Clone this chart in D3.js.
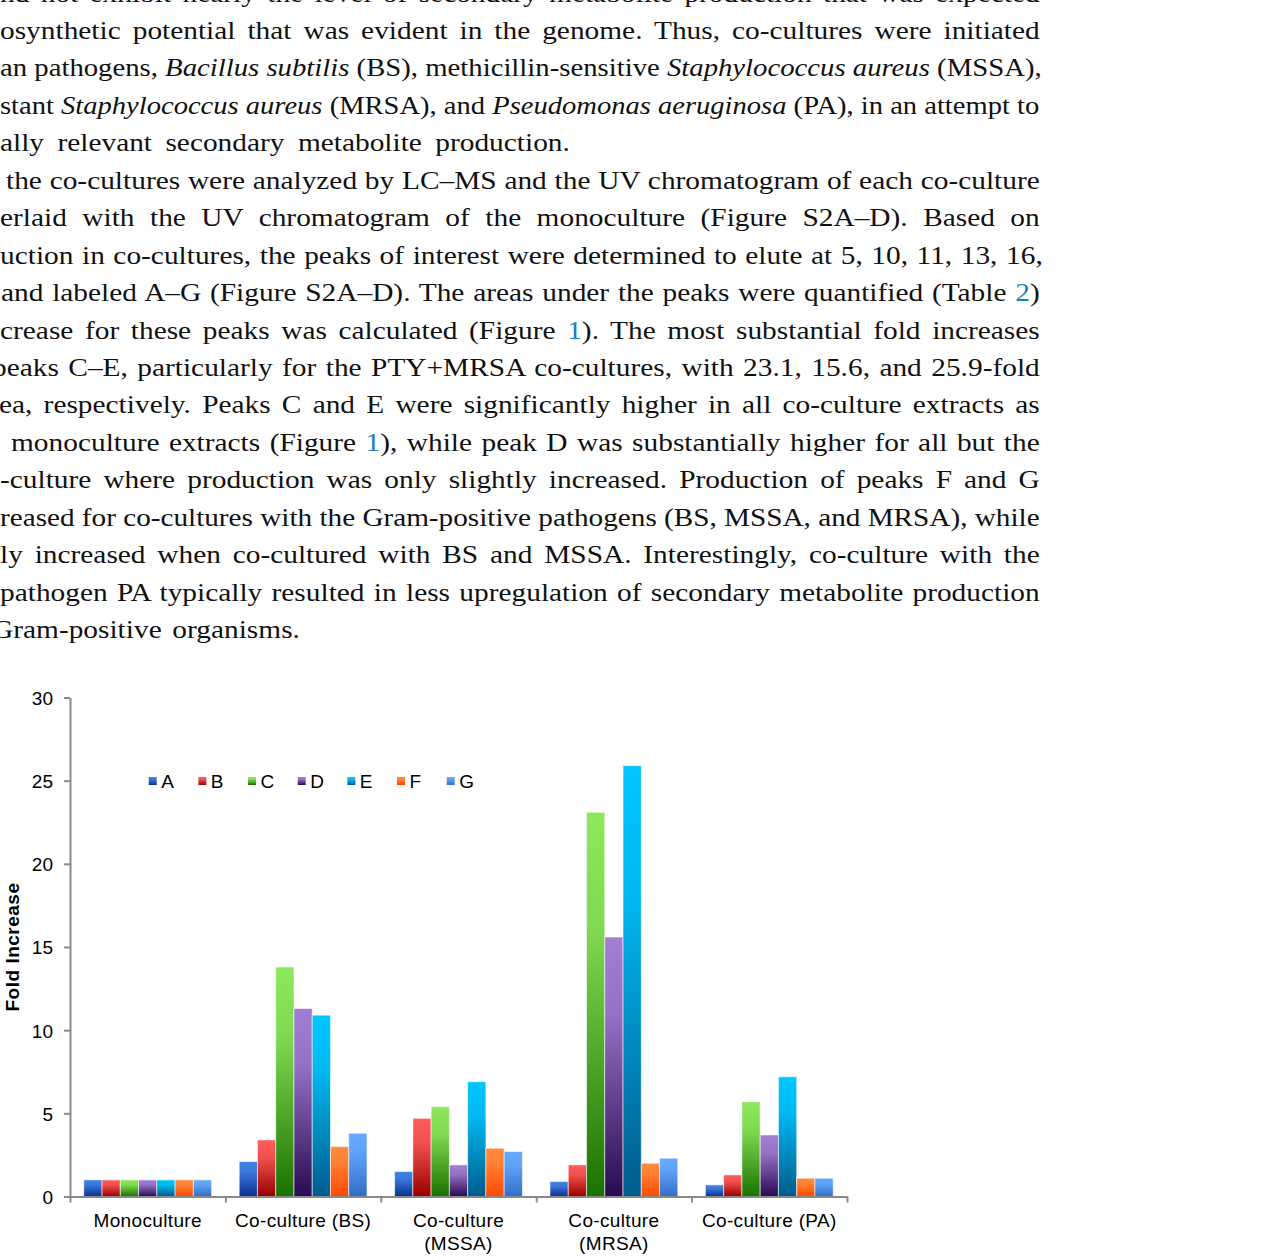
<!DOCTYPE html>
<html><head><meta charset="utf-8">
<script src="https://cdn.jsdelivr.net/npm/d3@7"></script>
<style>
html,body{margin:0;padding:0;background:#fff;overflow:hidden;}
svg{display:block;}
</style></head><body>
<svg id="page" width="1262" height="1260"></svg>
<script>
// ---------------- DATA ----------------
const categories = ["Monoculture", "Co-culture (BS)", "Co-culture (MSSA)", "Co-culture (MRSA)", "Co-culture (PA)"];
const categoryLabelLines = [["Monoculture"], ["Co-culture (BS)"], ["Co-culture", "(MSSA)"], ["Co-culture", "(MRSA)"], ["Co-culture (PA)"]];
const peaks = ["A", "B", "C", "D", "E", "F", "G"];
const peakA = [1.0, 2.1, 1.5, 0.9, 0.7];
const peakB = [1.0, 3.4, 4.7, 1.9, 1.3];
const peakC = [1.0, 13.8, 5.4, 23.1, 5.7];
const peakD = [1.0, 11.3, 1.9, 15.6, 3.7];
const peakE = [1.0, 10.9, 6.9, 25.9, 7.2];
const peakF = [1.0, 3.0, 2.9, 2.0, 1.1];
const peakG = [1.0, 3.8, 2.7, 2.3, 1.1];
const yTicks = [0, 5, 10, 15, 20, 25, 30];
const yTitle = "Fold Increase";

// body text lines (visible portions of a cropped, justified paragraph)
const bodyLines = [
  [["nd not exhibit nearly the level of secondary metabolite production that was expected"]],
  [["osynthetic potential that was evident in the genome. Thus, co-cultures were initiated"]],
  [["an pathogens, "], ["Bacillus subtilis", "i"], [" (BS), methicillin-sensitive "], ["Staphylococcus aureus", "i"], [" (MSSA),"]],
  [["stant "], ["Staphylococcus aureus", "i"], [" (MRSA), and "], ["Pseudomonas aeruginosa", "i"], [" (PA), in an attempt to"]],
  [["ally relevant secondary metabolite production."]],
  [["the co-cultures were analyzed by LC\u2013MS and the UV chromatogram of each co-culture"]],
  [["erlaid with the UV chromatogram of the monoculture (Figure S2A\u2013D). Based on"]],
  [["uction in co-cultures, the peaks of interest were determined to elute at 5, 10, 11, 13, 16,"]],
  [["and labeled A\u2013G (Figure S2A\u2013D). The areas under the peaks were quantified (Table "], ["2", "l"], [")"]],
  [["crease for these peaks was calculated (Figure "], ["1", "l"], ["). The most substantial fold increases"]],
  [["peaks C\u2013E, particularly for the PTY+MRSA co-cultures, with 23.1, 15.6, and 25.9-fold"]],
  [["ea, respectively. Peaks C and E were significantly higher in all co-culture extracts as"]],
  [["monoculture extracts (Figure "], ["1", "l"], ["), while peak D was substantially higher for all but the"]],
  [["-culture where production was only slightly increased. Production of peaks F and G"]],
  [["reased for co-cultures with the Gram-positive pathogens (BS, MSSA, and MRSA), while"]],
  [["ly increased when co-cultured with BS and MSSA. Interestingly, co-culture with the"]],
  [["pathogen PA typically resulted in less upregulation of secondary metabolite production"]],
  [["Gram-positive organisms."]]
];
// start / end x of each visible line
const bodyStart = [0, 0, 0, 0, 0, 6, 0, 0, 1, 0, -8, -1, 11, 0, 0, 0, 0, -8];
const bodyEnd = [1040, 1040, 1042, 1040, 570, 1040, 1040, 1043, 1040, 1040, 1040, 1040, 1040, 1040, 1040, 1040, 1040, 300];
const maxStretch = 1.13;

// ---------------- STYLE ----------------
const gradColors = {
  A: ["#3f82e6", "#0b2f8e"],
  B: ["#ff5c5c", "#980000"],
  C: ["#8ee85c", "#1a7200"],
  D: ["#a27fd2", "#2a0a52"],
  E: ["#00c6ff", "#005b8c"],
  F: ["#ff8a3c", "#ff4800"],
  G: ["#66a9ff", "#346ec6"]
};
const svg = d3.select("#page");

// ---------------- BODY TEXT ----------------
const bodyG = svg.append("g")
  .attr("font-family", "'Liberation Serif', 'Times New Roman', serif")
  .attr("font-size", 26)
  .attr("fill", "#111");
bodyLines.forEach((segs, i) => {
  const yb = 1.5 + i * 37.45;
  const t = bodyG.append("text").attr("x", 0).attr("y", 0);
  let full = "";
  segs.forEach(s => {
    const ts = t.append("tspan").text(s[0]);
    if (s[1] === "i") ts.attr("font-style", "italic");
    if (s[1] === "l") ts.attr("fill", "#1b7fc2");
    full += s[0];
  });
  const natural = t.node().getComputedTextLength();
  const spaces = (full.match(/ /g) || []).length;
  const width = bodyEnd[i] - bodyStart[i];
  const s = Math.max(1, Math.min(maxStretch, width / natural));
  t.attr("transform", `translate(${bodyStart[i]},${yb}) scale(${s},1)`);
  if (spaces > 0) t.attr("word-spacing", (width / s - natural) / spaces);
});

// ---------------- CHART ----------------
const defs = svg.append("defs");
peaks.forEach(p => {
  const g = defs.append("linearGradient").attr("id", "grad" + p)
    .attr("x1", 0).attr("y1", 0).attr("x2", 0).attr("y2", 1);
  g.append("stop").attr("offset", 0).attr("stop-color", gradColors[p][0]);
  g.append("stop").attr("offset", 0.3).attr("stop-color", d3.interpolateRgb(gradColors[p][0], gradColors[p][1])(0.12));
  g.append("stop").attr("offset", 1).attr("stop-color", gradColors[p][1]);
});

const plotLeft = 70, plotRight = 847, plotTop = 697.5, plotBottom = 1196.5;
const x0 = d3.scaleBand().domain(categories).range([plotLeft, plotRight]).paddingInner(0).paddingOuter(0);
const inset = 13.8;
const x1 = d3.scaleBand().domain(peaks).range([inset, x0.bandwidth() - inset]).padding(0);
const y = d3.scaleLinear().domain([0, 30]).range([plotBottom, plotTop]);

const series = { A: peakA, B: peakB, C: peakC, D: peakD, E: peakE, F: peakF, G: peakG };
const rows = [];
categories.forEach((c, ci) => peaks.forEach(p => rows.push({ c, p, v: series[p][ci] })));

const chartFont = "'Liberation Sans', Arial, sans-serif";
const axisColor = "#8a8a8a";

// bars
svg.append("g").selectAll("rect").data(rows).join("rect")
  .attr("x", d => x0(d.c) + x1(d.p))
  .attr("y", d => y(d.v))
  .attr("width", x1.bandwidth())
  .attr("height", d => y(0) - y(d.v))
  .attr("fill", d => "url(#grad" + d.p + ")")
  .attr("stroke", "rgba(255,255,255,0.55)")
  .attr("stroke-width", 1);

// y axis
const yAxis = svg.append("g").attr("transform", `translate(${plotLeft},0)`)
  .call(d3.axisLeft(y).tickValues(yTicks).tickSize(6).tickSizeOuter(0).tickPadding(11));
yAxis.select(".domain").attr("stroke", axisColor).attr("stroke-width", 2);
yAxis.selectAll(".tick line").attr("stroke", axisColor).attr("stroke-width", 2);
yAxis.selectAll(".tick text").attr("font-family", chartFont).attr("font-size", 19).attr("fill", "#000").attr("dy", "0.36em");

// x axis: boundary ticks
const xb = d3.scaleLinear().domain([0, categories.length]).range([plotLeft, plotRight]);
const xAxis = svg.append("g").attr("transform", `translate(0,${plotBottom})`)
  .call(d3.axisBottom(xb).tickValues(d3.range(categories.length + 1)).tickSize(6).tickSizeOuter(0).tickFormat(""));
xAxis.select(".domain").attr("stroke", axisColor).attr("stroke-width", 2);
xAxis.selectAll(".tick line").attr("stroke", axisColor).attr("stroke-width", 2);

// category labels
const lab = svg.append("g").attr("font-family", chartFont).attr("font-size", 19)
  .attr("fill", "#000").attr("text-anchor", "middle").attr("letter-spacing", 0.35);
categories.forEach((c, ci) => {
  categoryLabelLines[ci].forEach((ln, li) => {
    lab.append("text").attr("x", x0(c) + x0.bandwidth() / 2).attr("y", 1226.5 + li * 23.5).text(ln);
  });
});

// y title
svg.append("text")
  .attr("transform", `translate(18.5,${(plotTop + plotBottom) / 2}) rotate(-90)`)
  .attr("text-anchor", "middle")
  .attr("font-family", chartFont).attr("font-size", 19).attr("font-weight", "bold")
  .attr("letter-spacing", 0.5)
  .text(yTitle);

// legend
const legX = d3.scalePoint().domain(peaks).range([148.7, 446.7]);
const leg = svg.append("g").attr("font-family", chartFont).attr("font-size", 19).attr("fill", "#000");
peaks.forEach(p => {
  leg.append("rect").attr("x", legX(p)).attr("y", 777).attr("width", 8).attr("height", 8)
    .attr("fill", "url(#grad" + p + ")");
  leg.append("text").attr("x", legX(p) + 12.5).attr("y", 787.5).text(p);
});
</script>
</body></html>
